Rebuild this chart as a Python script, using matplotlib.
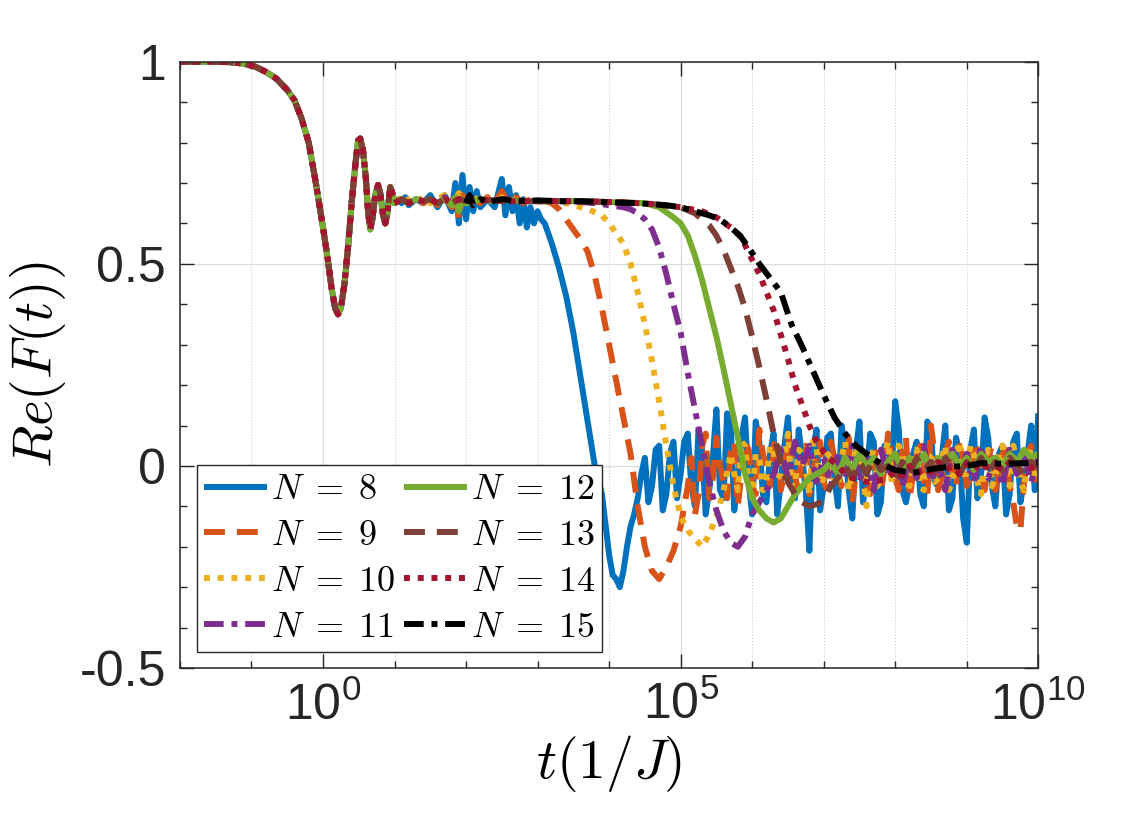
import numpy as np
import matplotlib
matplotlib.use("Agg")
import matplotlib.pyplot as plt
from matplotlib.ticker import MultipleLocator, NullFormatter

plt.rcParams['font.family'] = ['Liberation Sans', 'DejaVu Sans']
plt.rcParams['mathtext.fontset'] = 'cm'

# log10(t) values, shared early transient for N = 8..14
lt_early = [-2.0, -1.6, -1.3, -1.1, -0.95, -0.8, -0.65, -0.5, -0.4, -0.3, -0.2, -0.1,
            0.0, 0.06, 0.12, 0.17, 0.21, 0.25, 0.30, 0.35, 0.40, 0.45, 0.49, 0.52,
            0.56, 0.60, 0.63, 0.66, 0.69, 0.73, 0.77, 0.80, 0.84, 0.87, 0.90, 0.94,
            0.97, 1.0]
y_early = [1.0, 1.0, 0.999, 0.995, 0.988, 0.975, 0.958, 0.93, 0.905, 0.86, 0.80, 0.70,
           0.59, 0.52, 0.44, 0.39, 0.375, 0.39, 0.45, 0.54, 0.65, 0.74, 0.805, 0.81,
           0.78, 0.71, 0.63, 0.585, 0.61, 0.67, 0.695, 0.675, 0.62, 0.60, 0.625, 0.69,
           0.675, 0.65]

# sampling grids for the noisy late-time tails
lt_grid = [4.0, 4.1, 4.2, 4.3, 4.4, 4.5, 4.6, 4.7, 4.8, 4.9,
           5.0, 5.1, 5.2, 5.3, 5.4, 5.5, 5.6, 5.7, 5.8, 5.9,
           6.0, 6.1, 6.2, 6.3, 6.4, 6.5, 6.6, 6.7, 6.8, 6.9,
           7.0, 7.1, 7.2, 7.3, 7.4, 7.5, 7.6, 7.7, 7.8, 7.9,
           8.0, 8.1, 8.2, 8.3, 8.4, 8.5, 8.6, 8.7, 8.8, 8.9,
           9.0, 9.1, 9.2, 9.3, 9.4, 9.5, 9.6, 9.7, 9.8, 9.9, 10.0]
lt_half = [4.05, 4.15, 4.25, 4.35, 4.45, 4.55, 4.65, 4.75, 4.85, 4.95,
           5.05, 5.15, 5.25, 5.35, 5.45, 5.55, 5.65, 5.75, 5.85, 5.95,
           6.05, 6.15, 6.25, 6.35, 6.45, 6.55, 6.65, 6.75, 6.85, 6.95,
           7.05, 7.15, 7.25, 7.35, 7.45, 7.55, 7.65, 7.75, 7.85, 7.95,
           8.05, 8.15, 8.25, 8.35, 8.45, 8.55, 8.65, 8.75, 8.85, 8.95,
           9.05, 9.15, 9.25, 9.35, 9.45, 9.55, 9.65, 9.75, 9.85, 9.95]

# N = 8
lt8 = [1.05, 1.1, 1.15, 1.2, 1.3, 1.4, 1.5, 1.6, 1.7, 1.8, 1.85, 1.9, 1.95, 2.0, 2.05,
       2.1, 2.15, 2.2, 2.3, 2.4, 2.5, 2.55, 2.6, 2.65, 2.7, 2.75, 2.8, 2.85, 2.9, 2.95,
       3.0, 3.05, 3.1, 3.2, 3.3, 3.4, 3.5, 3.6, 3.7, 3.8, 3.9]
y8 = [0.66, 0.65, 0.665, 0.645, 0.66, 0.65, 0.67, 0.64, 0.67, 0.63, 0.70, 0.60, 0.72,
      0.61, 0.69, 0.63, 0.68, 0.64, 0.66, 0.64, 0.71, 0.62, 0.69, 0.63, 0.67, 0.60,
      0.66, 0.59, 0.64, 0.60, 0.63, 0.61, 0.60, 0.55, 0.49, 0.42, 0.33, 0.22, 0.11,
      0.0, -0.07]
tail8 = [-0.22, -0.28, -0.26, -0.15, -0.08, 0.02, -0.05, 0.05, -0.07, 0.06,
         -0.02, 0.08, -0.10, 0.04, -0.06, 0.14, -0.08, 0.10, -0.03, 0.12,
         -0.12, 0.06, -0.09, 0.08, -0.04, 0.12, -0.08, 0.02, -0.21, 0.09,
         -0.05, 0.08, -0.10, 0.05, -0.13, 0.11, -0.03, 0.06, -0.09, 0.04,
         0.16, -0.06, -0.04, 0.06, -0.10, 0.08, -0.05, 0.10, -0.08, 0.03,
         -0.19, 0.09, -0.02, 0.07, -0.10, 0.05, -0.07, 0.08, -0.04, 0.10, 0.13]
half8 = [-0.27, -0.30, -0.20, -0.12, -0.02, -0.09, 0.04, -0.11, 0.03, -0.08,
         0.06, -0.05, 0.09, -0.12, 0.02, -0.06, 0.13, -0.11, 0.07, -0.04,
         0.11, -0.07, 0.03, -0.12, 0.05, -0.02, 0.09, -0.06, 0.04, -0.11,
         0.07, -0.03, 0.10, -0.06, 0.04, -0.09, 0.08, -0.12, 0.05, -0.02,
         0.09, -0.09, 0.03, -0.07, 0.11, -0.04, 0.02, -0.11, 0.07, -0.13,
         0.04, -0.08, 0.12, -0.05, 0.03, -0.12, 0.06, -0.09, 0.03, -0.06]

# N = 9
lt9 = [1.05, 1.1, 1.2, 1.3, 1.4, 1.5, 1.6, 1.7, 1.8, 1.85, 1.9, 1.95, 2.0, 2.1, 2.2,
       2.3, 2.4, 2.5, 2.6, 2.7, 2.8, 2.9, 3.0, 3.1, 3.2, 3.3, 3.4, 3.5, 3.6, 3.7, 3.8,
       3.9, 4.0, 4.1, 4.2, 4.3, 4.4, 4.5, 4.6, 4.7, 4.8, 4.9]
y9 = [0.655, 0.66, 0.65, 0.665, 0.65, 0.66, 0.645, 0.665, 0.64, 0.68, 0.61, 0.67,
      0.645, 0.66, 0.65, 0.665, 0.65, 0.68, 0.645, 0.665, 0.65, 0.66, 0.655, 0.655,
      0.65, 0.635, 0.61, 0.585, 0.56, 0.53, 0.47, 0.39, 0.30, 0.21, 0.12, 0.03,
      -0.10, -0.20, -0.26, -0.28, -0.25, -0.21]
tail9 = [-0.15, -0.05, -0.12, 0.05, -0.08, 0.07, -0.04, 0.04, -0.10, 0.06,
         -0.05, 0.09, 0.0, 0.05, -0.06, 0.07, -0.03, 0.04, -0.07, 0.02,
         -0.04, 0.06, -0.02, 0.03, -0.09, 0.05, -0.05, 0.02, -0.06, 0.08,
         -0.03, 0.04, -0.08, 0.03, -0.04, 0.10, -0.06, 0.03, -0.02, 0.05,
         -0.05, 0.06, -0.03, 0.02, -0.06, 0.03, -0.05, -0.15, -0.04, 0.05, -0.06]
half9 = [-0.10, 0.02, -0.07, 0.08, -0.03, 0.0, -0.08, 0.06, -0.02, 0.04,
         -0.07, 0.03, -0.05, 0.07, -0.02, 0.03, -0.06, 0.05, -0.01, 0.06,
         -0.06, 0.02, -0.05, 0.07, -0.02, 0.03, -0.07, 0.04, -0.01, 0.02,
         -0.06, 0.07, -0.02, 0.05, -0.07, 0.03, -0.03, 0.06, -0.05, 0.02,
         -0.03, 0.04, -0.06, 0.05, -0.02, 0.04, -0.09, -0.16, 0.03, -0.03]

# N = 10
lt10 = [1.05, 1.1, 1.2, 1.3, 1.4, 1.5, 1.6, 1.7, 1.8, 1.9, 2.0, 2.1, 2.2, 2.3, 2.4,
        2.5, 2.6, 2.7, 2.8, 2.9, 3.0, 3.1, 3.2, 3.3, 3.4, 3.5, 3.6, 3.7, 3.8, 3.9,
        4.0, 4.1, 4.2, 4.3, 4.4, 4.5, 4.6, 4.7, 4.8, 4.9, 5.0, 5.1, 5.2, 5.3, 5.4,
        5.5, 5.6]
y10 = [0.66, 0.65, 0.66, 0.655, 0.665, 0.65, 0.66, 0.67, 0.645, 0.675, 0.65, 0.665,
       0.655, 0.66, 0.65, 0.665, 0.655, 0.66, 0.655, 0.66, 0.655, 0.655, 0.655, 0.65,
       0.65, 0.645, 0.64, 0.635, 0.628, 0.62, 0.60, 0.575, 0.55, 0.50, 0.43, 0.35,
       0.26, 0.16, 0.05, -0.05, -0.125, -0.16, -0.18, -0.20, -0.17, -0.125, -0.06]
tail10 = [0.03, -0.06, 0.05, -0.08, 0.02, -0.04, 0.04, -0.02, 0.08, -0.05,
          0.03, -0.07, 0.05, -0.03, 0.02, -0.05, 0.06, -0.02, 0.03, -0.10,
          0.04, -0.03, 0.06, -0.02, 0.03, -0.05, 0.04, -0.06, 0.02, -0.03,
          0.05, -0.04, 0.06, -0.02, 0.03, -0.07, 0.04, -0.03, 0.05, -0.05,
          0.02, -0.06, 0.04, -0.02]
half10 = [-0.02, 0.06, -0.04, 0.03, -0.06, 0.05, -0.03, 0.02, -0.05, 0.04,
          -0.01, 0.06, -0.05, 0.03, -0.04, 0.02, -0.06, 0.05, -0.03, 0.02,
          -0.05, 0.03, -0.04, 0.05, -0.02, 0.04, -0.05, 0.03, -0.04, 0.02,
          -0.06, 0.03, -0.02, 0.05, -0.04, 0.02, -0.05, 0.03, -0.02, 0.05,
          -0.04, 0.02, -0.03]

# N = 11
lt11 = [1.05, 1.1, 1.2, 1.3, 1.4, 1.5, 1.6, 1.7, 1.8, 1.9, 2.0, 2.2, 2.4, 2.6, 2.8,
        3.0, 3.2, 3.4, 3.6, 3.8, 4.0, 4.2, 4.3, 4.4, 4.5, 4.6, 4.7, 4.8, 4.9, 5.0,
        5.1, 5.2, 5.3, 5.4, 5.5, 5.6, 5.7, 5.8, 5.9, 6.0, 6.1, 6.2]
y11 = [0.655, 0.66, 0.65, 0.66, 0.655, 0.66, 0.65, 0.665, 0.65, 0.66, 0.655, 0.66,
       0.655, 0.66, 0.655, 0.655, 0.655, 0.655, 0.653, 0.65, 0.645, 0.64, 0.635,
       0.625, 0.61, 0.585, 0.54, 0.475, 0.40, 0.33, 0.23, 0.14, 0.05, -0.04, -0.11,
       -0.16, -0.19, -0.20, -0.175, -0.12, -0.09, -0.06]
tail11 = [-0.02, 0.04, -0.03, 0.06, 0.0, 0.05, -0.04, 0.02, -0.05, 0.03,
          -0.02, 0.05, -0.04, 0.02, -0.06, 0.04, -0.02, 0.03, -0.05, 0.02,
          -0.03, 0.05, -0.04, 0.01, -0.06, 0.04, -0.02, 0.03, -0.04, 0.05,
          -0.03, 0.02, -0.05, 0.04, -0.02, 0.03, -0.04, 0.02]

# N = 12
lt12 = [1.05, 1.1, 1.2, 1.3, 1.4, 1.5, 1.6, 1.7, 1.8, 1.85, 1.9, 1.95, 2.0, 2.2, 2.4,
        2.6, 2.8, 3.0, 3.3, 3.6, 3.9, 4.2, 4.5, 4.7, 4.9, 5.0, 5.1, 5.2, 5.3, 5.4,
        5.5, 5.6, 5.7, 5.8, 5.9, 6.0, 6.1, 6.2, 6.3, 6.4, 6.5, 6.6, 6.7, 6.8, 6.9, 7.0]
y12 = [0.655, 0.66, 0.65, 0.66, 0.655, 0.66, 0.65, 0.66, 0.645, 0.665, 0.63, 0.66,
       0.65, 0.66, 0.655, 0.658, 0.655, 0.655, 0.655, 0.655, 0.653, 0.652, 0.65,
       0.64, 0.615, 0.60, 0.57, 0.52, 0.46, 0.39, 0.32, 0.24, 0.155, 0.07, -0.02,
       -0.08, -0.11, -0.13, -0.14, -0.13, -0.10, -0.07, -0.05, -0.03, -0.02, -0.01]
tail12 = [0.01, -0.02, 0.02, -0.01, 0.03, 0.0, 0.02, -0.02, 0.01,
          0.03, -0.01, 0.02, 0.0, 0.03, -0.01, 0.02, 0.01, 0.03, 0.0,
          0.02, -0.01, 0.03, 0.01, 0.02, 0.0, 0.03, 0.01, 0.04, 0.02, 0.03]

# N = 13
lt13 = [1.05, 1.1, 1.2, 1.3, 1.4, 1.5, 1.6, 1.7, 1.8, 1.9, 2.0, 2.3, 2.6, 3.0, 3.4,
        3.8, 4.2, 4.6, 5.0, 5.2, 5.4, 5.5, 5.6, 5.7, 5.8, 5.9, 6.0, 6.1, 6.2, 6.3,
        6.4, 6.5, 6.6, 6.7, 6.8, 6.9, 7.0]
y13 = [0.655, 0.66, 0.65, 0.66, 0.655, 0.66, 0.65, 0.66, 0.65, 0.66, 0.655, 0.658,
       0.655, 0.655, 0.655, 0.654, 0.652, 0.648, 0.64, 0.625, 0.595, 0.57, 0.535,
       0.49, 0.445, 0.39, 0.32, 0.245, 0.165, 0.08, 0.01, -0.04, -0.07, -0.09,
       -0.10, -0.095, -0.085]
tail13 = [-0.05, -0.03, 0.0, -0.03, 0.01, -0.02, 0.02, -0.01, 0.0,
          -0.03, 0.01, -0.02, 0.02, -0.01, 0.01, -0.03, 0.02, 0.0, -0.02,
          0.01, -0.01, 0.02, -0.02, 0.01, -0.01, 0.02, 0.0, -0.02, 0.01, 0.0]

# N = 14
lt14 = [1.05, 1.1, 1.2, 1.3, 1.4, 1.5, 1.6, 1.7, 1.8, 1.9, 2.0, 2.3, 2.6, 3.0, 3.4,
        3.8, 4.2, 4.6, 5.0, 5.3, 5.5, 5.7, 5.85, 6.0, 6.1, 6.2, 6.3, 6.4, 6.5, 6.6,
        6.7, 6.8, 6.9, 7.0, 7.1, 7.2, 7.3, 7.4, 7.5, 7.6, 7.7, 7.8]
y14 = [0.655, 0.66, 0.65, 0.66, 0.655, 0.66, 0.65, 0.66, 0.65, 0.66, 0.655, 0.658,
       0.655, 0.655, 0.655, 0.654, 0.652, 0.648, 0.64, 0.63, 0.615, 0.59, 0.565,
       0.51, 0.475, 0.43, 0.385, 0.325, 0.265, 0.20, 0.15, 0.10, 0.06, 0.035, 0.015,
       0.0, -0.02, -0.03, -0.035, -0.04, -0.04, -0.035]
tail14 = [-0.03, -0.01, -0.025, 0.0, -0.02, -0.005, -0.015, 0.01, -0.01, 0.0,
          -0.02, 0.005, -0.01, 0.01, -0.005, 0.0, -0.01, 0.01, 0.0, 0.01,
          -0.005, 0.005]

# N = 15 (starts at t = 100)
lt15 = [2.0, 2.05, 2.1, 2.2, 2.3, 2.5, 2.7, 3.0, 3.3, 3.6, 4.0, 4.4, 4.8, 5.0, 5.2,
        5.4, 5.55, 5.7, 5.83, 5.95, 6.1, 6.25, 6.4, 6.55, 6.7, 6.85, 7.0, 7.15, 7.3,
        7.45, 7.6, 7.8, 8.0, 8.25, 8.5, 8.7, 9.0, 9.2, 9.5, 9.8, 10.0]
y15 = [0.65, 0.67, 0.645, 0.66, 0.652, 0.66, 0.655, 0.657, 0.655, 0.655, 0.652,
       0.65, 0.645, 0.64, 0.63, 0.62, 0.61, 0.59, 0.57, 0.54, 0.50, 0.465, 0.43,
       0.35, 0.295, 0.235, 0.175, 0.12, 0.08, 0.05, 0.03, 0.005, -0.01, -0.017,
       -0.008, -0.003, 0.0, 0.007, 0.005, 0.007, 0.008]

labels = ['$N\\;=\\;8$', '$N\\;=\\;9$', '$N\\;=\\;10$', '$N\\;=\\;11$',
          '$N\\;=\\;12$', '$N\\;=\\;13$', '$N\\;=\\;14$', '$N\\;=\\;15$']
colors = ['#0072BD', '#D95319', '#EDB120', '#7E2F8E', '#77AC30', '#7E3F36', '#A2142F', '#000000']
dashes = [None, (3.5, 2.0), (1.0, 1.3), (3.3, 1.3, 1.0, 1.3),
          None, (3.5, 2.0), (1.0, 1.3), (3.3, 1.3, 1.0, 1.3)]

mids = [(lt8, y8, tail8, half8), (lt9, y9, tail9, half9), (lt10, y10, tail10, half10),
        (lt11, y11, tail11, []), (lt12, y12, tail12, []), (lt13, y13, tail13, []),
        (lt14, y14, tail14, [])]

curves = []
for lt_m, y_m, tail, half in mids:
    lt_t = lt_grid[len(lt_grid) - len(tail):]
    lt_h = lt_half[len(lt_half) - len(half):] if half else []
    lt_n = np.array(lt_t + lt_h)
    y_n = np.array(tail + half)
    order = np.argsort(lt_n)
    lt = np.concatenate([lt_early, lt_m, lt_n[order]])
    yy = np.concatenate([y_early, y_m, y_n[order]])
    curves.append((lt, yy))
curves.append((np.array(lt15), np.array(y15)))

fig = plt.figure(figsize=(11.46, 8.34), dpi=100)
ax = fig.add_axes([0.157, 0.199, 0.749, 0.727])

for (lt, yy), lab, c, d in zip(curves, labels, colors, dashes):
    line, = ax.plot(10.0 ** lt, yy, color=c, lw=4.3, label=lab, solid_capstyle='butt')
    if d is not None:
        line.set_dashes(d)

ax.set_xscale('log')
ax.set_xlim(1e-2, 1e10)
ax.set_ylim(-0.5, 1.0)
ax.set_xticks([1e0, 1e5, 1e10])
ax.set_xticks([10.0 ** k for k in range(-2, 11)], minor=True)
ax.xaxis.set_minor_formatter(NullFormatter())
ax.set_yticks([-0.5, 0, 0.5, 1])
ax.set_yticklabels(['-0.5', '0', '0.5', '1'])
ax.yaxis.set_minor_locator(MultipleLocator(0.1))

ax.grid(True, which='major', color='#dcdcdc', lw=0.9)
ax.xaxis.grid(True, which='minor', color='#d0d0d0', lw=0.8, linestyle=':')
ax.set_axisbelow(True)

ax.tick_params(which='both', direction='in', top=True, right=True, colors='#262626',
               labelsize=36, width=1.0)
ax.tick_params(which='major', length=10, pad=10)
ax.tick_params(which='minor', length=5)
for s in ax.spines.values():
    s.set_color('#262626')
    s.set_linewidth(1.1)

ax.set_xlabel('$t(1/J)$', fontsize=40, labelpad=2)
ax.set_ylabel('$Re(F(t))$', fontsize=40, labelpad=8)

leg = ax.legend(ncol=2, loc='lower left', bbox_to_anchor=(0.0198, 0.0264),
                borderaxespad=0, fontsize=26, handlelength=1.75, handletextpad=0.1,
                columnspacing=0.25, labelspacing=0.3, borderpad=0.2,
                fancybox=False, framealpha=1, edgecolor='#262626')
leg.get_frame().set_linewidth(1.0)

fig.savefig('out.png', dpi=100)
